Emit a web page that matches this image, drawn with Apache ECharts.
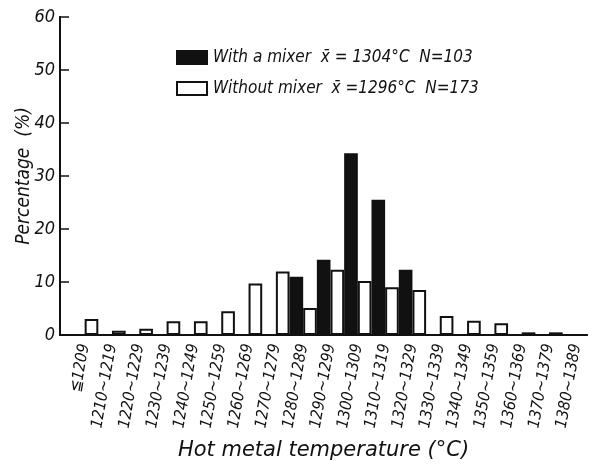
<!DOCTYPE html>
<html>
<head>
<meta charset="utf-8">
<script src="https://cdn.jsdelivr.net/npm/echarts@6/dist/echarts.min.js"></script>
<style>
html,body{margin:0;padding:0;background:#fff;}
#c{width:594px;height:468px;}
</style>
</head>
<body>
<div id="c"></div>
<script>
var categories = ['\u22661209','1210~1219','1220~1229','1230~1239','1240~1249','1250~1259','1260~1269','1270~1279','1280~1289','1290~1299','1300~1309','1310~1319','1320~1329','1330~1339','1340~1349','1350~1359','1360~1369','1370~1379','1380~1389'];
var withMixer = [null,null,null,null,null,null,null,null,11.0,14.2,34.3,25.5,12.3,null,null,null,null,null,null];
var withoutMixer = [3.0,0.8,1.2,2.6,2.6,4.5,9.7,12.0,5.1,12.3,10.2,9.0,8.5,3.6,2.7,2.2,0.5,0.5,null];
var yTicks = [0,10,20,30,40,50,60];
var nameWith = 'With a mixer  x\u0304 = 1304\u00b0C  N=103';
var nameWithout = 'Without mixer  x\u0304 =1296\u00b0C  N=173';

var FONT = 'DejaVu Sans Condensed';
var INK = '#111';
var chart = echarts.init(document.getElementById('c'), null, {renderer:'canvas'});
chart.setOption({
  backgroundColor:'#fff',
  animation:false,
  legend:{
    orient:'vertical', left:171, top:44,
    itemWidth:30, itemHeight:13, itemGap:14,
    icon:'rect',
    textStyle:{fontFamily:FONT, fontStyle:'italic', fontSize:17, color:INK, padding:[0,0,0,1]},
    data:[nameWith, nameWithout]
  },
  grid:[
    {left:71, right:4, top:17, bottom:133},
    {left:60, right:7, top:17, bottom:133}
  ],
  xAxis:[
    {gridIndex:0, type:'category', data:categories,
     axisLine:{show:false}, axisTick:{show:false},
     axisLabel:{rotate:80, interval:0, margin:9, fontFamily:FONT, fontStyle:'italic', fontSize:16, color:INK}},
    {gridIndex:1, type:'value', min:0, max:1, position:'bottom',
     axisLine:{show:true, lineStyle:{color:INK, width:2}}, axisTick:{show:false}, axisLabel:{show:false}, splitLine:{show:false},
     name:'Hot metal temperature (\u00b0C)', nameLocation:'middle', nameGap:105,
     nameTextStyle:{fontFamily:'DejaVu Sans', fontStyle:'italic', fontSize:21, color:INK}},
    {gridIndex:1, type:'value', min:0, max:1, position:'top',
     axisLine:{show:true, lineStyle:{color:INK, width:2}}, axisTick:{show:false}, axisLabel:{show:false}, splitLine:{show:false}}
  ],
  yAxis:[
    {gridIndex:0, type:'value', min:yTicks[0], max:yTicks[yTicks.length-1], interval:10, offset:11,
     axisLine:{show:false},
     axisTick:{show:true, inside:true, length:9, lineStyle:{color:INK, width:1.5}},
     axisLabel:{margin:5, fontFamily:FONT, fontStyle:'italic', fontSize:18, color:INK},
     splitLine:{show:false},
     name:'Percentage  (%)', nameLocation:'middle', nameGap:26, nameMoveOverlap:false,
     nameTextStyle:{fontFamily:FONT, fontStyle:'italic', fontSize:19, color:INK}},
    {gridIndex:1, type:'value', min:0, max:1, position:'left',
     axisLine:{show:true, lineStyle:{color:INK, width:2}}, axisTick:{show:false}, axisLabel:{show:false}, splitLine:{show:false}},
    {gridIndex:1, type:'value', min:0, max:1, position:'right',
     axisLine:{show:true, lineStyle:{color:INK, width:2}}, axisTick:{show:false}, axisLabel:{show:false}, splitLine:{show:false}}
  ],
  series:[
    {name:nameWith, type:'bar', xAxisIndex:0, yAxisIndex:0, data:withMixer,
     barGap:'0%', barCategoryGap:'0%',
     itemStyle:{color:INK, borderColor:INK, borderWidth:1.5}},
    {name:nameWithout, type:'bar', xAxisIndex:0, yAxisIndex:0, data:withoutMixer,
     barGap:'0%', barCategoryGap:'0%',
     itemStyle:{color:'#fff', borderColor:INK, borderWidth:2}}
  ]
});
</script>
</body>
</html>
